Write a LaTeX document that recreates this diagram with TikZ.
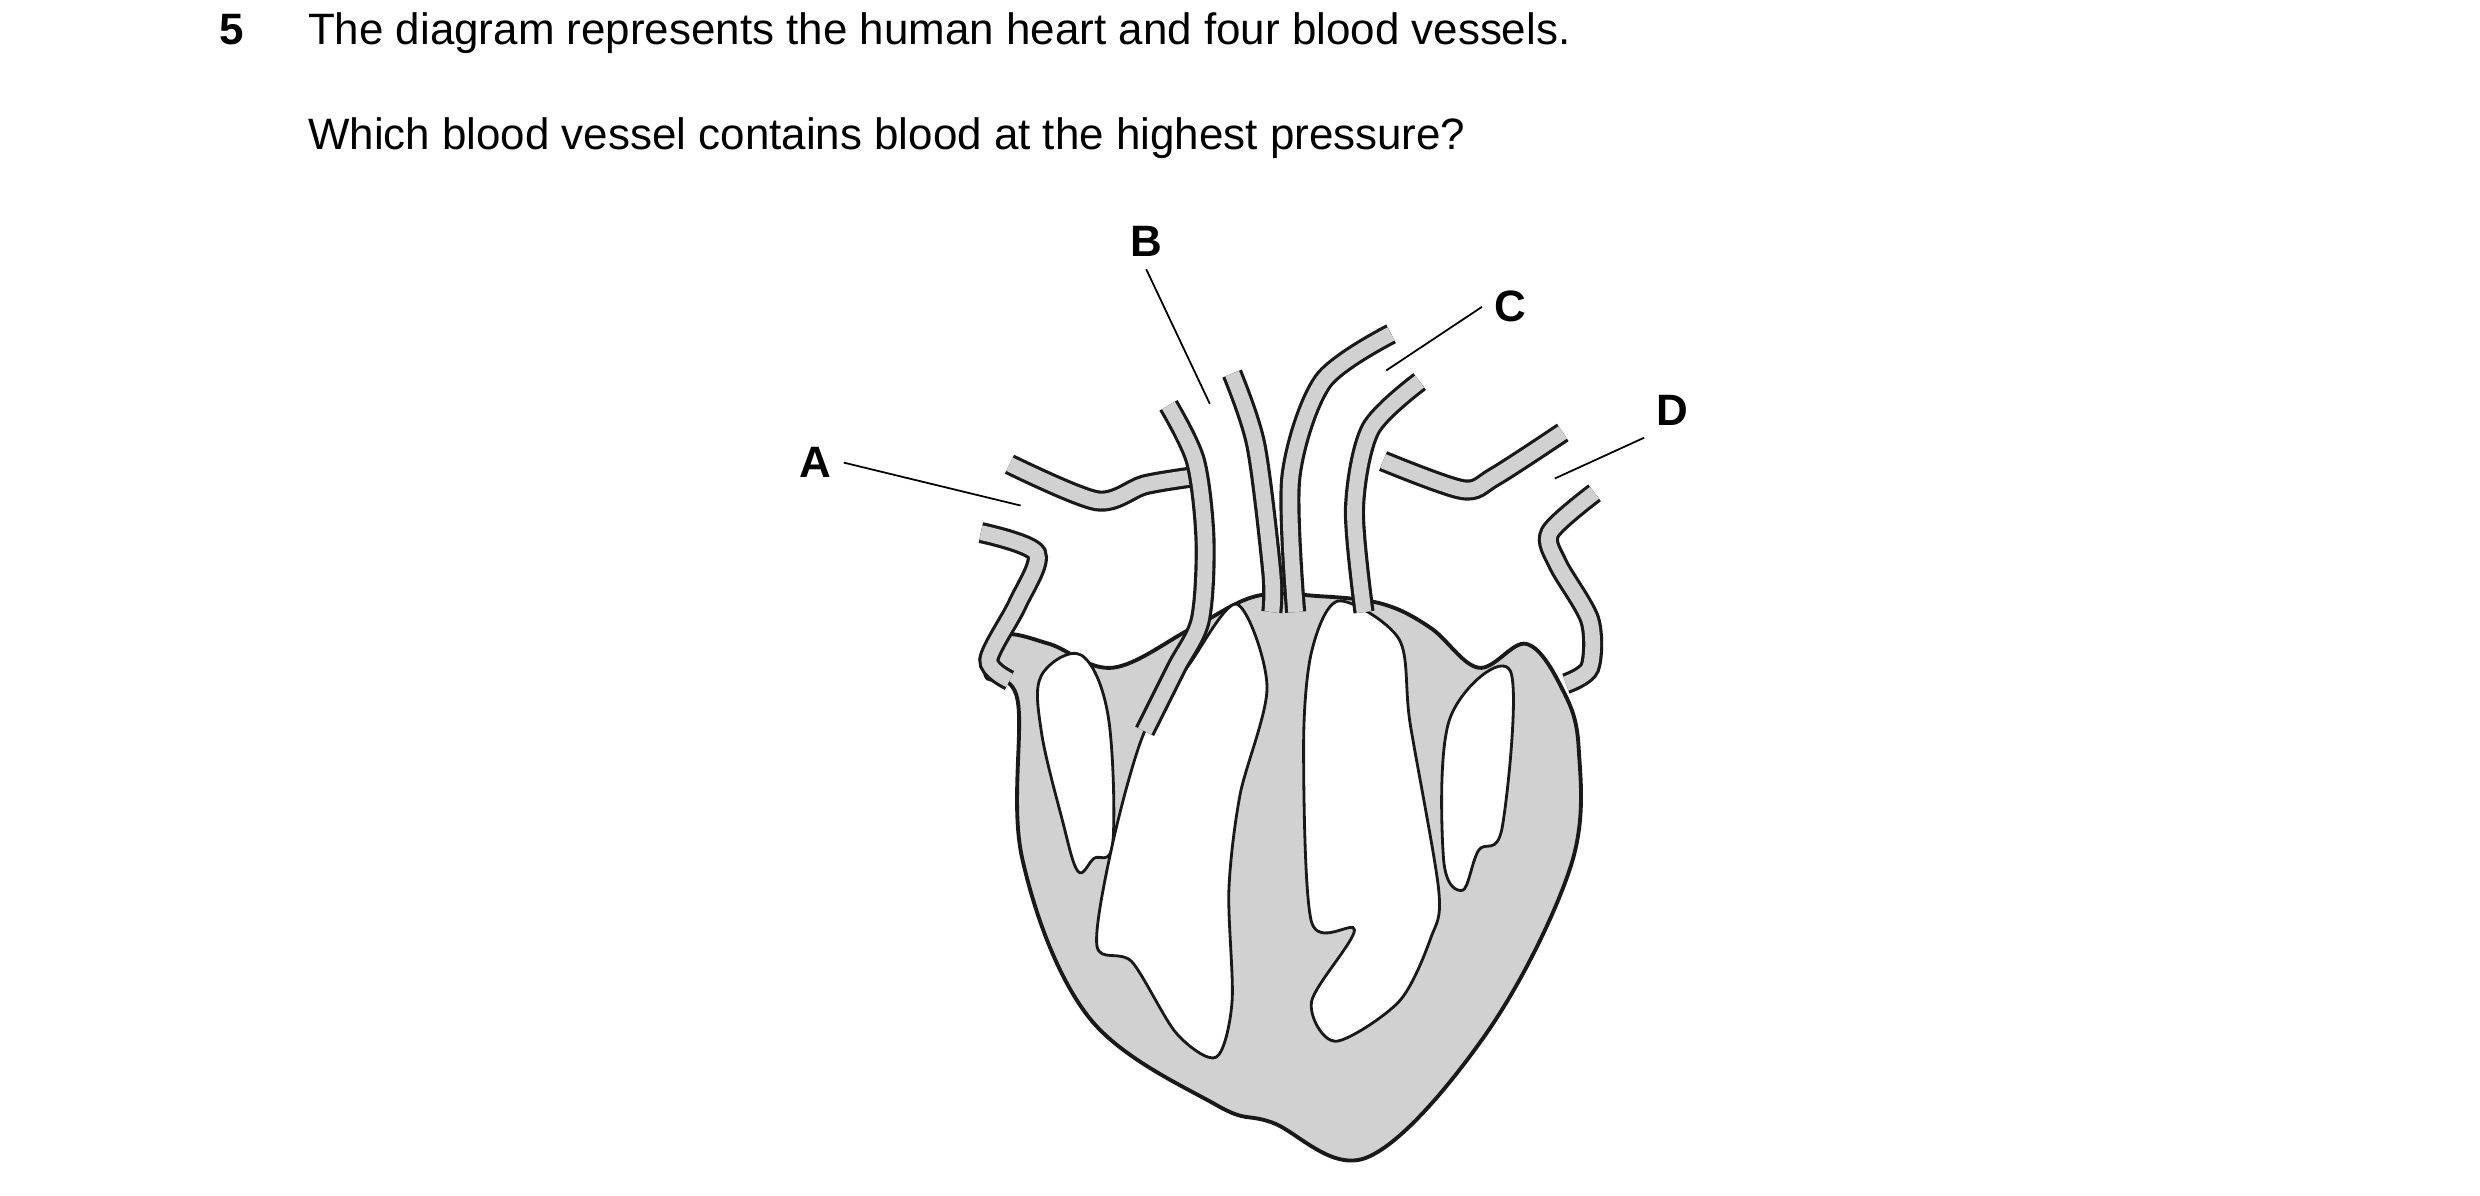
\documentclass[tikz,border=0pt]{standalone}
\usepackage{fontspec}
\setmainfont{Liberation Sans}
\begin{document}
\begin{tikzpicture}[x=0.0159cm,y=-0.0159cm,
  txt/.style={anchor=base west,font=\fontsize{12.5}{15}\selectfont},
  lbl/.style={font=\bfseries\fontsize{12.5}{15}\selectfont},
  wall/.style={draw=black!90,line width=1.1pt,fill=black!18},
  cav/.style={draw=black!90,line width=0.8pt,fill=white},
  tubeout/.style={line width=6pt,draw=black!90,line cap=butt},
  tubein/.style={line width=4.2pt,draw=black!18,line cap=butt},
  lead/.style={line width=0.5pt}]
\useasboundingbox (0,0) rectangle (1560,752);
% Text
\node[txt,font=\bfseries\fontsize{12.5}{15}\selectfont] (num) at (130,28) {5};
\node[txt] (q1) at (186,28) {The diagram represents the human heart and four blood vessels.};
\node[txt] (q2) at (186,94) {Which blood vessel contains blood at the highest pressure?};
% Heart body
\draw[wall] plot[smooth cycle,tension=0.6] coordinates {(620,425) (640,440) (643,540) (685,640) (765,695) (800,706) (860,728) (935,650) (988,545) (993,470) (982,432) (960,405) (930,420) (900,395) (870,380) (830,375) (790,375) (750,395) (700,420) (660,405) (630,400)};
% Cavities
\draw[cav] plot[smooth cycle,tension=0.6] coordinates {(655,425) (680,412) (697,450) (700,530) (688,540) (678,548) (668,515) (655,460)};
\draw[cav] plot[smooth cycle,tension=0.5] coordinates {(720,460) (748,418) (778,380) (797,432) (780,500) (773,560) (775,630) (765,665) (740,650) (712,605) (690,595) (700,530)};
\draw[cav] plot[smooth cycle,tension=0.5] coordinates {(825,410) (842,378) (880,402) (887,455) (905,560) (900,590) (880,630) (840,655) (825,630) (852,585) (825,580) (820,470)};
\draw[cav] plot[smooth cycle,tension=0.6] coordinates {(912,452) (950,422) (945,520) (930,535) (920,560) (908,540)};
% Vessels
\foreach \p in {
  {(635,292) (690,315) (720,305) (750,300)},
  {(617,335) (652,348) (640,380) (622,415) (635,428)},
  {(735,255) (752,290) (758,340) (755,390) (740,420) (720,460)},
  {(775,235) (790,280) (800,360) (800,385)},
  {(875,210) (832,240) (812,300) (815,385)},
  {(893,240) (862,270) (852,320) (858,385)},
  {(870,290) (920,308) (940,300) (983,272)},
  {(1003,310) (975,335) (980,355) (1000,390) (1000,420) (985,430)}} {
  \draw[tubeout] plot[smooth] coordinates \p;
  \draw[tubein] plot[smooth] coordinates \p;
}
% Labels
\node[lbl] (A) at (513,291) {A};
\node[lbl] (B) at (721,152) {B};
\node[lbl] (C) at (950,193) {C};
\node[lbl] (D) at (1052,258) {D};
\coordinate (a) at (642,318);
\coordinate (b) at (761,254);
\coordinate (c) at (872,233);
\coordinate (d) at (978,301);
\draw[lead] (A.east) -- (a);
\draw[lead] (B.south) -- (b);
\draw[lead] (C.west) -- (c);
\draw[lead] (D.south west) -- (d);
\end{tikzpicture}
\end{document}
